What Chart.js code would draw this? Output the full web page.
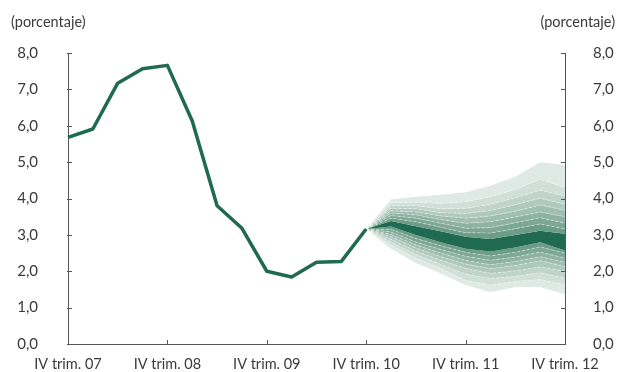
<!DOCTYPE html>
<html>
<head>
<meta charset="utf-8">
<script src="https://cdn.jsdelivr.net/npm/chart.js@4.4.1/dist/chart.umd.min.js"></script>
<style>
  html, body { margin: 0; padding: 0; background: #ffffff; }
  #wrap { width: 618px; height: 372px; position: relative; }
</style>
</head>
<body>
<div id="wrap"><canvas id="myChart"></canvas></div>
<script>

// quarters on the x axis, one per trimestre
var quarters = [
  "IV trim. 07",
  "I trim. 08", "II trim. 08", "III trim. 08", "IV trim. 08",
  "I trim. 09", "II trim. 09", "III trim. 09", "IV trim. 09",
  "I trim. 10", "II trim. 10", "III trim. 10", "IV trim. 10",
  "I trim. 11", "II trim. 11", "III trim. 11", "IV trim. 11",
  "I trim. 12", "II trim. 12", "III trim. 12", "IV trim. 12"
];

// observed values, IV trim. 07 .. IV trim. 10
var observed = [5.68, 5.91, 7.17, 7.57, 7.66, 6.13, 3.80, 3.18, 2.00, 1.84, 2.25, 2.27, 3.16];

// fan edges, IV trim. 10 .. IV trim. 12 (outer -> inner)
var upper8 = [3.16, 3.98, 4.05, 4.10, 4.17, 4.35, 4.60, 5.00, 4.92];
var upper7 = [3.16, 3.88, 3.90, 3.86, 3.91, 4.05, 4.25, 4.53, 4.30];
var upper6 = [3.16, 3.80, 3.80, 3.72, 3.73, 3.84, 4.02, 4.23, 4.07];
var upper5 = [3.16, 3.73, 3.72, 3.61, 3.59, 3.67, 3.83, 4.01, 3.84];
var upper4 = [3.16, 3.66, 3.63, 3.52, 3.46, 3.52, 3.65, 3.82, 3.68];
var upper3 = [3.16, 3.60, 3.55, 3.42, 3.32, 3.36, 3.49, 3.63, 3.50];
var upper2 = [3.16, 3.53, 3.46, 3.32, 3.18, 3.20, 3.33, 3.47, 3.32];
var upper1 = [3.16, 3.46, 3.36, 3.21, 3.06, 3.05, 3.17, 3.30, 3.16];
var centerTop    = [3.16, 3.38, 3.24, 3.10, 2.95, 2.89, 3.00, 3.11, 3.03];
var centerBottom = [3.16, 3.23, 3.00, 2.80, 2.62, 2.54, 2.65, 2.80, 2.57];
var lower1 = [3.16, 3.15, 2.90, 2.70, 2.52, 2.42, 2.52, 2.67, 2.50];
var lower2 = [3.16, 3.08, 2.80, 2.60, 2.41, 2.30, 2.39, 2.53, 2.36];
var lower3 = [3.16, 3.01, 2.72, 2.50, 2.30, 2.18, 2.27, 2.40, 2.25];
var lower4 = [3.16, 2.95, 2.64, 2.40, 2.20, 2.07, 2.16, 2.29, 2.13];
var lower5 = [3.16, 2.88, 2.55, 2.30, 2.08, 1.94, 2.01, 2.12, 2.00];
var lower6 = [3.16, 2.80, 2.46, 2.19, 1.92, 1.80, 1.86, 1.96, 1.81];
var lower7 = [3.16, 2.72, 2.36, 2.08, 1.75, 1.62, 1.72, 1.77, 1.63];
var lower8 = [3.16, 2.62, 2.23, 1.94, 1.62, 1.42, 1.57, 1.57, 1.36];

// y tick values
var yTicks = [0, 1, 2, 3, 4, 5, 6, 7, 8];

// band colours, outer (lightest) -> inner
var shades = ['#dfe9e5', '#d0dfd8', '#c0d4cb', '#b0c9be', '#a0beb1', '#8fb3a3', '#7ea795', '#6d9c88'];
var darkGreen = '#1f6a50';
var textColor = '#3a3a3a';
var axisColor = '#555555';

// the fan starts at IV trim. 10 so pad the front with nulls
function fanData(arr) {
  var out = [];
  for (var i = 0; i < observed.length - 1; i++) out.push(null);
  return out.concat(arr);
}

function fanEdge(arr, fillColor, dashed) {
  return {
    data: fanData(arr),
    fill: fillColor ? '-1' : false,
    backgroundColor: fillColor || 'transparent',
    borderColor: dashed ? 'rgba(255,255,255,0.55)' : 'transparent',
    borderWidth: dashed ? 0.8 : 0,
    borderDash: dashed ? [3, 2] : [],
    pointRadius: 0,
    tension: 0
  };
}

var datasets = [];
// upper half, outer edge first
datasets.push(fanEdge(upper8, null, false));
datasets.push(fanEdge(upper7, shades[0], true));
datasets.push(fanEdge(upper6, shades[1], true));
datasets.push(fanEdge(upper5, shades[2], true));
datasets.push(fanEdge(upper4, shades[3], true));
datasets.push(fanEdge(upper3, shades[4], true));
datasets.push(fanEdge(upper2, shades[5], true));
datasets.push(fanEdge(upper1, shades[6], true));
datasets.push(fanEdge(centerTop, shades[7], false));
// central band
datasets.push(fanEdge(centerBottom, darkGreen, false));
// lower half, inner edge first
datasets.push(fanEdge(lower1, shades[7], true));
datasets.push(fanEdge(lower2, shades[6], true));
datasets.push(fanEdge(lower3, shades[5], true));
datasets.push(fanEdge(lower4, shades[4], true));
datasets.push(fanEdge(lower5, shades[3], true));
datasets.push(fanEdge(lower6, shades[2], true));
datasets.push(fanEdge(lower7, shades[1], true));
datasets.push(fanEdge(lower8, shades[0], false));

// the observed line on top of everything
datasets.push({
  data: observed,
  fill: false,
  borderColor: darkGreen,
  borderWidth: 3.5,
  pointRadius: 0,
  tension: 0,
  borderJoinStyle: 'round',
  order: -1
});

// small tick marks + the "(porcentaje)" captions
var extrasPlugin = {
  id: 'extras',
  afterDraw: function (chart) {
    var ctx = chart.ctx;
    var area = chart.chartArea;
    var x = chart.scales.x;
    var y = chart.scales.y;
    ctx.save();
    ctx.strokeStyle = axisColor;
    ctx.lineWidth = 1;
    ctx.beginPath();
    for (var i = 0; i < quarters.length; i += 4) {
      var px = Math.round(x.getPixelForValue(i)) + 0.5;
      ctx.moveTo(px, area.bottom);
      ctx.lineTo(px, area.bottom - 4);
    }
    for (var t = 0; t < yTicks.length; t++) {
      var py = Math.round(y.getPixelForValue(yTicks[t])) + 0.5;
      ctx.moveTo(area.left - 1, py);
      ctx.lineTo(area.left + 4, py);
      ctx.moveTo(area.right - 4, py);
      ctx.lineTo(area.right + 1, py);
    }
    ctx.stroke();

    ctx.fillStyle = textColor;
    ctx.font = '14.5px Lato';
    ctx.textBaseline = 'middle';
    ctx.textAlign = 'left';
    ctx.fillText('(porcentaje)', 11, 22);
    ctx.textAlign = 'right';
    ctx.fillText('(porcentaje)', 615, 22);
    ctx.restore();
  } // END afterDraw
};

function yTickOpts() {
  return {
    stepSize: 1,
    padding: 2,
    color: textColor,
    font: { family: 'Lato', size: 15 },
    callback: function (v) { return v.toFixed(1).replace('.', ','); }
  };
}

// transparent tick marks are used only to push the labels away from the axis
function yGrid(len) {
  return { display: true, drawOnChartArea: false, drawTicks: true, tickLength: len, tickColor: 'transparent' };
}

var canvas = document.getElementById('myChart');
var chart = new Chart(canvas, {
  type: 'line',
  data: { labels: quarters, datasets: datasets },
  options: {
    responsive: true,
    maintainAspectRatio: false,
    animation: false,
    layout: { padding: { top: 53, right: 0, bottom: 0, left: 0 } },
    plugins: {
      legend: { display: false },
      tooltip: { enabled: false },
      filler: { propagate: false }
    },
    scales: {
      x: {
        type: 'category',
        offset: false,
        grid: { display: false, drawTicks: false },
        border: { display: true, color: axisColor, width: 1 },
        ticks: {
          autoSkip: false,
          maxRotation: 0,
          padding: 12,
          color: textColor,
          font: { family: 'Lato', size: 14.5 },
          callback: function (v, i) { return i % 4 === 0 ? quarters[i] : ''; }
        },
        afterFit: function (s) { s.height = 28; }
      },
      y: {
        position: 'left',
        min: 0, max: 8,
        grid: yGrid(28),
        border: { display: true, color: axisColor, width: 1 },
        ticks: yTickOpts(),
        afterFit: function (s) { s.width = 68; }
      },
      y2: {
        position: 'right',
        min: 0, max: 8,
        grid: yGrid(26),
        border: { display: true, color: axisColor, width: 1 },
        ticks: yTickOpts(),
        afterFit: function (s) { s.width = 53; }
      }
    }
  },
  plugins: [extrasPlugin]
});

</script>
</body>
</html>
